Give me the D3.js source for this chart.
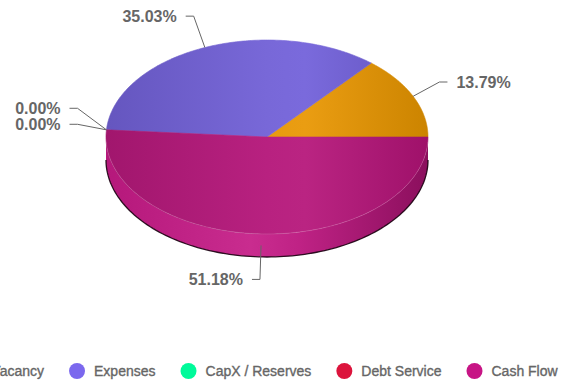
<!DOCTYPE html>
<html>
<head>
<meta charset="utf-8">
<script src="https://cdn.jsdelivr.net/npm/d3@7"></script>
<style>
  html, body { margin: 0; padding: 0; background: #fff; }
  svg { display: block; font-family: "Liberation Sans", Arial, Helvetica, sans-serif; }
</style>
</head>
<body>
<svg id="chart" width="567" height="382"></svg>
<script>
// ---- data ----
const categories = ["Vacancy", "Expenses", "CapX / Reserves", "Debt Service", "Cash Flow"];
const values = [13.79, 35.03, 0.00, 0.00, 51.18];
const colors = ["#FFA500", "#7B68EE", "#00FA9A", "#DC143C", "#C71585"];
const labels = ["13.79%", "35.03%", "0.00%", "0.00%", "51.18%"];

// ---- layout ----
const cx = 267, cy = 137, rx = 161, ry = 97, depth = 23;
const labRx = rx + 29, labRy = ry + 34;

const svg = d3.select("#chart");
const defs = svg.append("defs");

const data = categories.map((c, i) => ({ name: c, value: values[i], color: colors[i], label: labels[i], i }));

// pie goes counter-clockwise from 3 o'clock
const pie = d3.pie().sort(null).value(d => d.value)
  .startAngle(Math.PI / 2).endAngle(Math.PI / 2 - 2 * Math.PI);
const arcs = pie(data);

const px = a => cx + rx * Math.sin(a);
const py = a => cy - ry * Math.cos(a);

const xGrad = d3.scaleLinear().domain([0, 1]).range([cx - rx, cx + rx]);

function shade(base, dark, light) {
  let c = d3.interpolateRgb(base, "#000")(dark);
  return d3.interpolateRgb(c, "#fff")(light);
}
function makeGrad(id, base, stops) {
  const g = defs.append("linearGradient").attr("id", id)
    .attr("gradientUnits", "userSpaceOnUse")
    .attr("x1", xGrad(0)).attr("x2", xGrad(1)).attr("y1", 0).attr("y2", 0);
  stops.forEach(s => g.append("stop").attr("offset", s[0]).attr("stop-color", shade(base, s[1], s[2])));
}
data.forEach(d => {
  makeGrad("top" + d.i, d.color, [[0, 0.2, 0.02], [0.5, 0.1, 0.06], [0.62, 0.09, 0.07], [1, 0.2, 0.0]]);
  makeGrad("side" + d.i, d.color, [[0, 0.1, 0.02], [0.45, 0.02, 0.1], [0.6, 0.06, 0.06], [1, 0.3, 0.0]]);
});

function arcPoints(a0, a1, n, dy) {
  return d3.range(n + 1).map(k => {
    const a = a0 + (a1 - a0) * k / n;
    return [px(a), py(a) + dy];
  });
}
const line = d3.line();

// ---- side walls (front half only: angles in [PI/2, 3PI/2]) ----
const sideG = svg.append("g");
arcs.forEach(a => {
  if (a.value <= 0) return;
  const lo = Math.min(a.startAngle, a.endAngle), hi = Math.max(a.startAngle, a.endAngle);
  for (let shift = -2; shift <= 2; shift++) {
    const l = lo + shift * 2 * Math.PI, h = hi + shift * 2 * Math.PI;
    const s0 = Math.max(l, Math.PI / 2), s1 = Math.min(h, 3 * Math.PI / 2);
    if (s1 > s0 + 1e-6) {
      const topPts = arcPoints(s0, s1, 120, 0);
      const botPts = arcPoints(s1, s0, 120, depth);
      sideG.append("path").attr("d", line(topPts.concat(botPts)) + "Z")
        .attr("fill", `url(#side${a.data.i})`);
      sideG.append("path").attr("d", line(arcPoints(s0, s1, 120, depth)))
        .attr("fill", "none").attr("stroke", "#1a0010").attr("stroke-width", 1.3).attr("stroke-opacity", 0.9);
    }
  }
});

// ---- top faces ----
const topG = svg.append("g");
arcs.forEach(a => {
  if (a.value <= 0) return;
  const pts = [[cx, cy]].concat(arcPoints(a.startAngle, a.endAngle, 160, 0));
  topG.append("path").attr("d", line(pts) + "Z")
    .attr("fill", `url(#top${a.data.i})`)
    .attr("stroke", `url(#top${a.data.i})`).attr("stroke-width", 0.6)
    .attr("stroke-linejoin", "round");
});
topG.append("path").attr("d", line(arcPoints(Math.PI / 2 + 0.05, 3 * Math.PI / 2 - 0.05, 120, 0)))
  .attr("fill", "none").attr("stroke", "#ffffff").attr("stroke-opacity", 0.14).attr("stroke-width", 1);

// ---- data labels ----
const labG = svg.append("g");
const labs = arcs.map(a => {
  const m = (a.startAngle + a.endAngle) / 2;
  const off = Math.cos(m) < 0 ? depth / 2 : 0;
  return {
    a, m,
    left: Math.sin(m) < 0,
    P: [px(m), py(m) + off],
    Lx: cx + labRx * Math.sin(m),
    y: cy - labRy * Math.cos(m) + off
  };
});
// resolve overlaps per side (stack upward, keeping a small clearance)
[true, false].forEach(side => {
  const grp = labs.filter(l => l.left === side).sort((p, q) => q.y - p.y || p.a.index - q.a.index);
  for (let k = 1; k < grp.length; k++) {
    if (grp[k].y > grp[k - 1].y - 16) {
      if (Math.abs(grp[k].y - grp[k - 1].y) < 1) grp[k - 1].y -= 3;
      grp[k].y = grp[k - 1].y - 16;
    }
  }
});
labs.forEach(l => {
  const dir = l.left ? -1 : 1;
  const pts = [l.P, [l.Lx, l.y], [l.Lx + dir * 8, l.y]];
  labG.append("path").attr("d", line(pts)).attr("fill", "none")
    .attr("stroke", "#666").attr("stroke-width", 1);
  labG.append("text").attr("x", l.Lx + dir * 17).attr("y", l.y)
    .attr("dy", "0.35em")
    .attr("text-anchor", l.left ? "end" : "start")
    .attr("font-size", 16).attr("font-weight", "bold").attr("fill", "#666")
    .text(l.a.data.label);
});

// ---- legend ----
const legG = svg.append("g");
const items = data.map(d => {
  const g = legG.append("g");
  g.append("circle").attr("r", 8).attr("cx", 8).attr("cy", 0).attr("fill", d.color);
  const t = g.append("text").attr("x", 25).attr("y", 0).attr("dy", "0.35em")
    .attr("font-size", 14).attr("fill", "#666")
    .attr("stroke", "#666").attr("stroke-width", 0.35)
    .text(d.name);
  return { g, w: 25 + t.node().getComputedTextLength() };
});
const gap = 25;
const total = d3.sum(items, it => it.w) + gap * (items.length - 1);
let x0 = 262 - total / 2;
items.forEach(it => { it.g.attr("transform", `translate(${x0},371)`); x0 += it.w + gap; });
</script>
</body>
</html>
